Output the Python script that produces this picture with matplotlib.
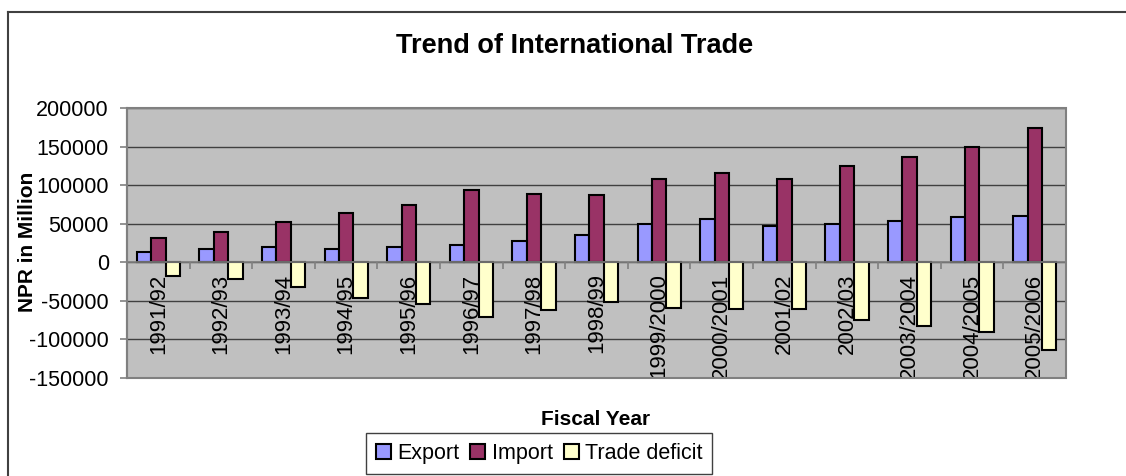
import numpy as np
import matplotlib.pyplot as plt
from matplotlib.patches import Rectangle
from matplotlib.lines import Line2D

plt.rcParams['font.family'] = ['Liberation Sans', 'DejaVu Sans']
plt.rcParams['axes.unicode_minus'] = False

# fiscal years and trade figures (NPR million)
years = ["1991/92", "1992/93", "1993/94", "1994/95", "1995/96", "1996/97", "1997/98",
         "1998/99", "1999/2000", "2000/2001", "2001/02", "2002/03", "2003/2004",
         "2004/2005", "2005/2006"]
export = [13700, 17300, 19300, 17600, 19900, 22600, 27500, 35700, 49800, 55700,
          46900, 49900, 53900, 58700, 60200]
imports = [31900, 39200, 51600, 63700, 74500, 93600, 89000, 87500, 108500, 115700,
           107400, 124400, 136300, 149500, 173800]
deficit = [-18200, -21900, -32300, -46000, -54600, -70900, -61500, -51800, -58700,
           -60000, -60400, -74400, -82400, -90800, -113500]
yticks = [-150000, -100000, -50000, 0, 50000, 100000, 150000, 200000]

fig = plt.figure(figsize=(11.26, 4.76), dpi=100)
ax = fig.add_axes([0.1128, 0.2059, 0.834, 0.5672])
ax.set_facecolor('#C0C0C0')

x = np.arange(len(years))
w = 0.23
ax.bar(x - w, export, w, color='#9999FF', edgecolor='black', lw=1.5, label='Export', zorder=1)
ax.bar(x, imports, w, color='#993366', edgecolor='black', lw=1.5, label='Import', zorder=1)
ax.bar(x + w, deficit, w, color='#FFFFCC', edgecolor='black', lw=1.5, label='Trade deficit', zorder=1)

# horizontal gridlines behind the bars
for v in yticks:
    ax.axhline(v, color='#404040', lw=1.0, zorder=0.5)

ax.set_xlim(-0.5, len(years) - 0.5)
ax.set_ylim(-150000, 200000)

ax.spines['top'].set_visible(False)
ax.spines['right'].set_visible(False)
ax.spines['left'].set_color('#808080')
ax.spines['left'].set_linewidth(1.5)
ax.spines['bottom'].set_position(('data', 0))
ax.spines['bottom'].set_color('#808080')
ax.spines['bottom'].set_linewidth(1.2)
ax.add_patch(Rectangle((0, 0), 1, 1, transform=ax.transAxes, fill=False,
                       ec='#808080', lw=1.5, clip_on=False, zorder=3))

ax.set_xticks(x, labels=years, rotation=90)
ax.set_xticks(np.arange(-0.5, len(years), 1), minor=True)
ax.tick_params(axis='x', which='major', length=0, pad=8, labelsize=16)
ax.tick_params(axis='x', which='minor', length=5, color='#808080', width=1.2)
# long year labels are cut off at the plot area edge
for lbl in ax.get_xticklabels():
    lbl.set_clip_box(ax.bbox)
    lbl.set_clip_on(True)

ax.set_yticks(yticks, labels=[str(v) for v in yticks])
ax.tick_params(axis='y', length=5, color='#808080', width=1.2, pad=8, labelsize=15.5)

fig.text(0.510, 0.889, "Trend of International Trade", ha='center', va='baseline',
         fontsize=19.5, fontweight='bold')
fig.text(0.024, 0.4926, "NPR in Million", ha='center', va='center', rotation=90,
         fontsize=15, fontweight='bold')
fig.text(0.529, 0.107, "Fiscal Year", ha='center', va='baseline',
         fontsize=15, fontweight='bold')

leg = fig.legend(loc='center', bbox_to_anchor=(0.479, 0.047), ncol=3, fontsize=15.5,
                 fancybox=False, edgecolor='#404040', framealpha=1,
                 handlelength=0.7, handleheight=0.7, handletextpad=0.3,
                 columnspacing=0.5, borderpad=0.45)
leg.get_frame().set_linewidth(1)

# chart area border
fig.add_artist(Line2D([8 / 1126, 8 / 1126], [0, 1 - 12 / 476], transform=fig.transFigure,
                      color='#404040', lw=1.5))
fig.add_artist(Line2D([8 / 1126, 1], [1 - 12 / 476, 1 - 12 / 476], transform=fig.transFigure,
                      color='#404040', lw=1.5))

fig.savefig('out.png', dpi=100)
